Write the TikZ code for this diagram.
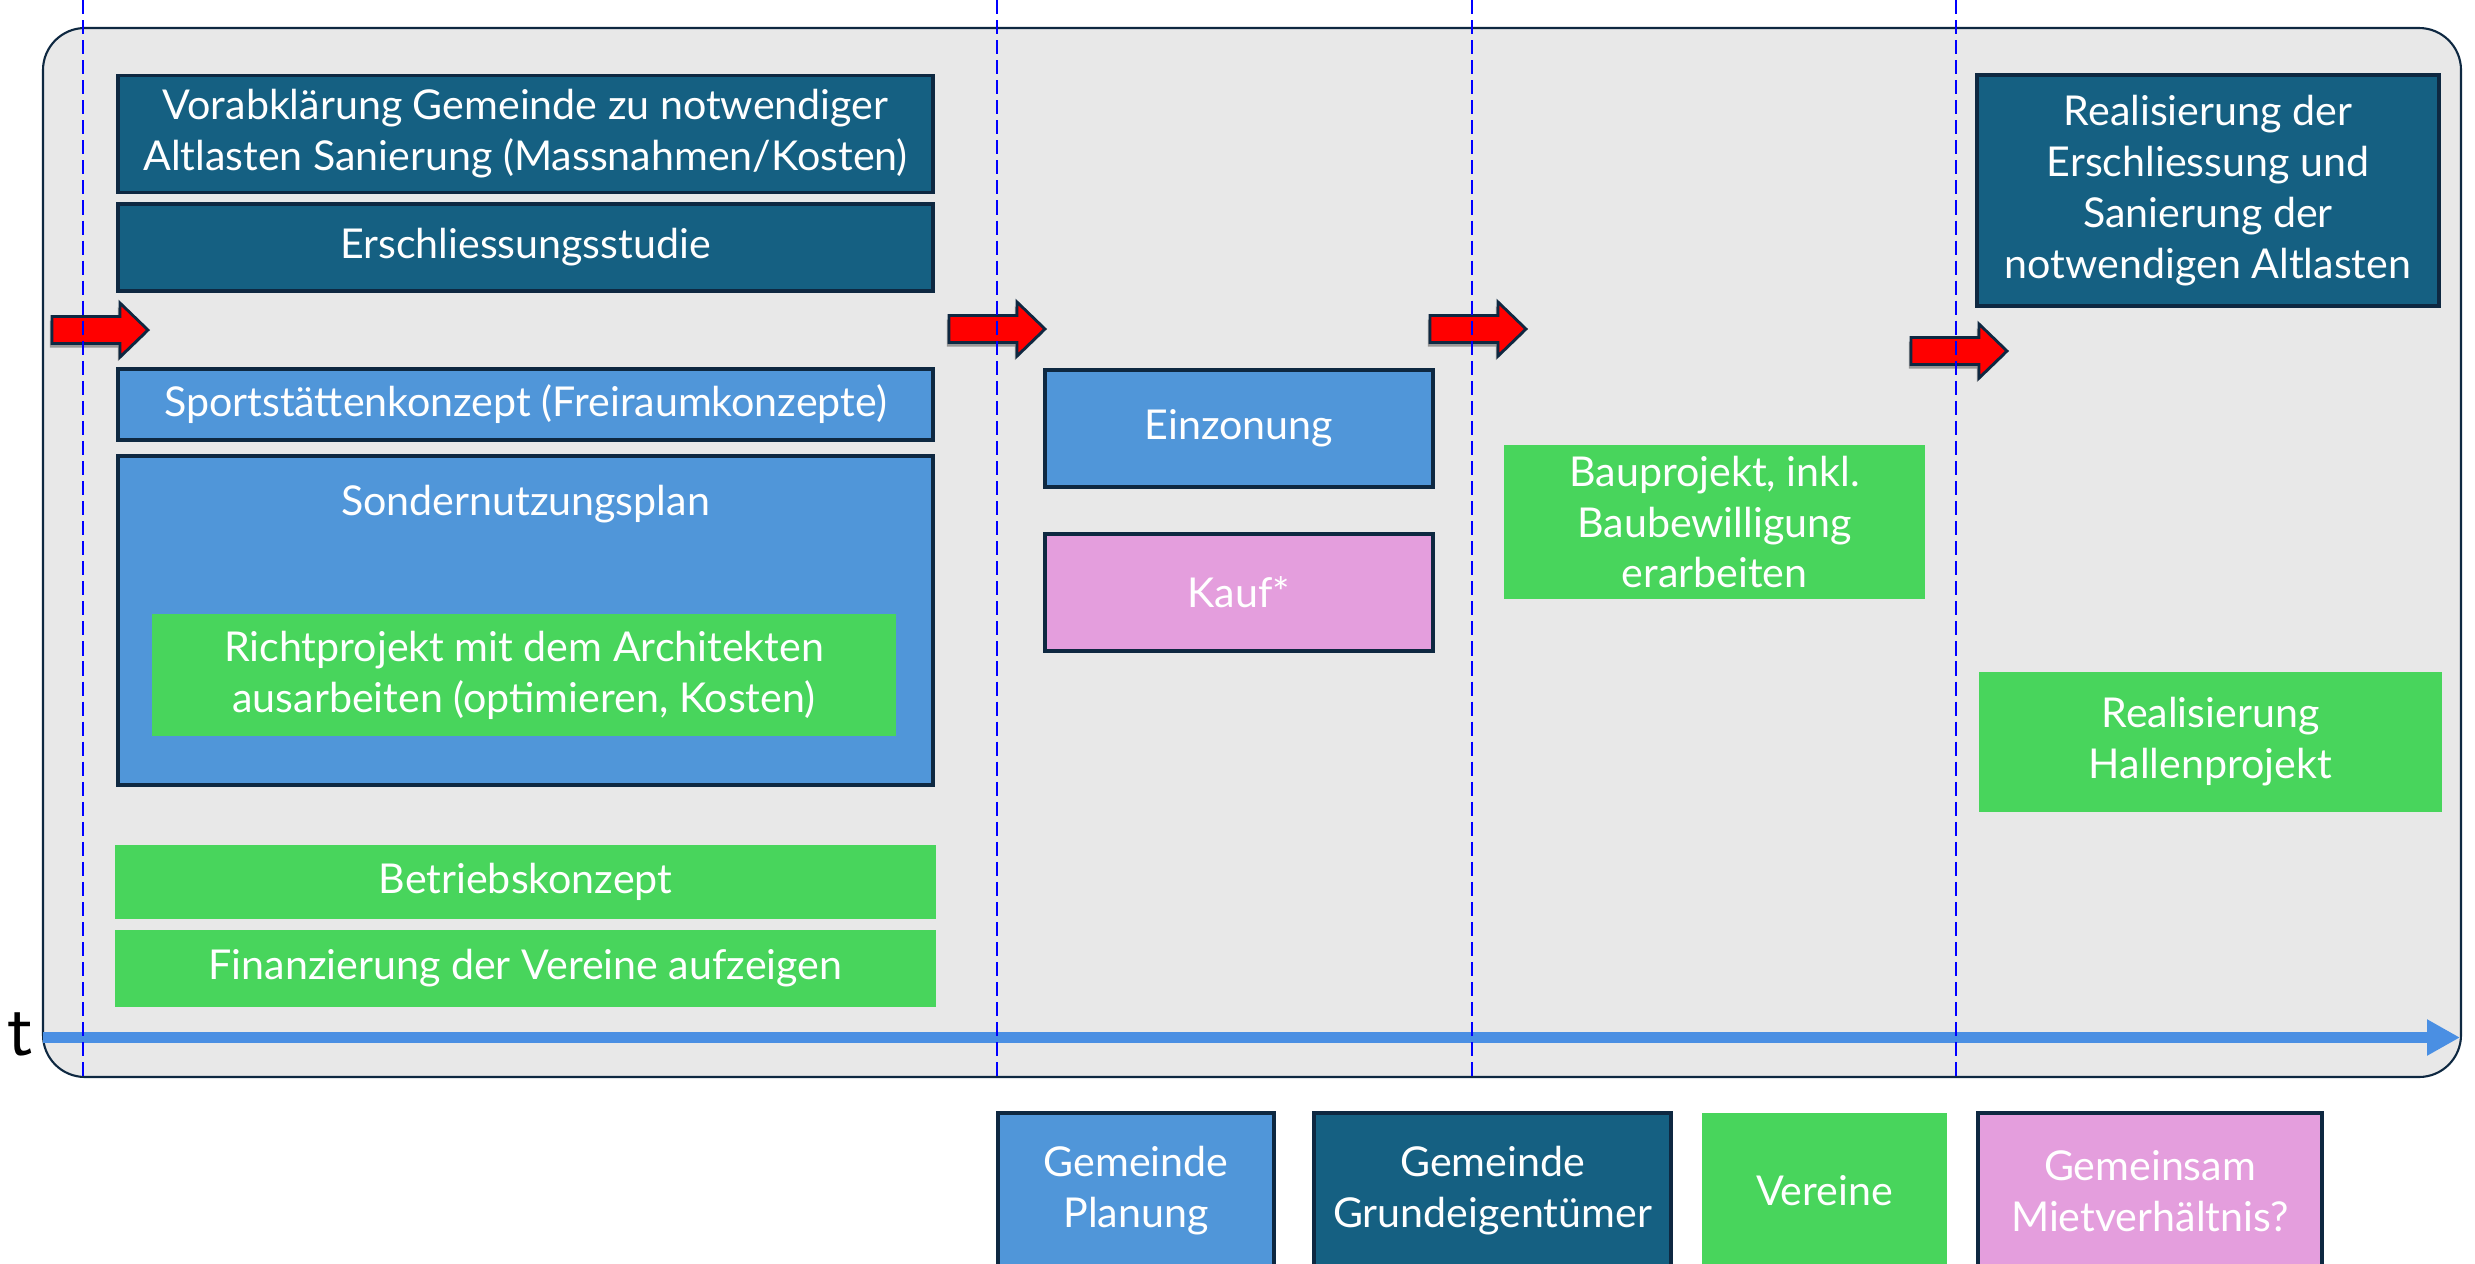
\documentclass[tikz,border=0pt]{standalone}
\usepackage{fontspec}
\setmainfont{Lato}
\usetikzlibrary{shadows,arrows.meta}
\definecolor{cnavy}{HTML}{0E2841}
\definecolor{cdark}{HTML}{156082}
\definecolor{cblue}{HTML}{5096D9}
\definecolor{cgreen}{HTML}{48D55C}
\definecolor{cpink}{HTML}{E49EDD}
\definecolor{cbg}{HTML}{E8E8E8}
\definecolor{ctime}{HTML}{4A8FE3}
\definecolor{cdash}{HTML}{0000FF}
\begin{document}
\begin{tikzpicture}[x=0.01cm,y=-0.01cm,
  boxbase/.style={rectangle, inner sep=0pt, outer sep=0pt, text=white, align=center,
    font=\fontsize{11.7}{14.5}\selectfont},
  darkbox/.style={boxbase, fill=cdark, draw=cnavy, line width=1.1pt},
  bluebox/.style={boxbase, fill=cblue, draw=cnavy, line width=1.1pt},
  pinkbox/.style={boxbase, fill=cpink, draw=cnavy, line width=1.1pt},
  greenbox/.style={boxbase, fill=cgreen},
  boxtext/.style={inner sep=0pt, text=white, align=center, font=\fontsize{11.7}{14.5}\selectfont},
  redarrow/.style={fill=red, draw=cnavy, line width=0.8pt, line join=miter,
    drop shadow={shadow xshift=-0.6pt, shadow yshift=-1.2pt, opacity=0.35, fill=black}},
  phase/.style={draw=cdash, line width=0.55pt, dash pattern=on 4pt off 1.7pt}
]
\clip (0,0) rectangle (2475,1263);
\useasboundingbox (0,0) rectangle (2475,1263);

% background panel
\draw[fill=cbg, draw=cnavy, line width=0.6pt, rounded corners=0.42cm] (43,28) rectangle (2461,1077);

% phase 1
\node[darkbox, minimum width=8.15cm, minimum height=1.17cm] (vorab) at (525.5,134)
  {Vorabklärung Gemeinde zu notwendiger\\Altlasten Sanierung (Massnahmen/Kosten)};
\node[darkbox, minimum width=8.15cm, minimum height=0.87cm] (ersch) at (525.5,247.5)
  {Erschliessungsstudie};
\node[bluebox, minimum width=8.15cm, minimum height=0.71cm] (sport) at (525.5,404.5)
  {Sportstättenkonzept (Freiraumkonzepte)};
\node[bluebox, minimum width=8.15cm, minimum height=3.29cm] (sonder) at (525.5,620.5) {};
\node[boxtext] (sonderT) at (525.5,504) {Sondernutzungsplan};
\node[greenbox, minimum width=7.44cm, minimum height=1.22cm] (richt) at (524,675)
  {Richtprojekt mit dem Architekten\\ausarbeiten (optimieren, Kosten)};
\node[greenbox, minimum width=8.21cm, minimum height=0.74cm] (betrieb) at (525.5,882)
  {Betriebskonzept};
\node[greenbox, minimum width=8.21cm, minimum height=0.77cm] (finanz) at (525.5,968.5)
  {Finanzierung der Vereine aufzeigen};

% phase 2
\node[bluebox, minimum width=3.88cm, minimum height=1.17cm] (einz) at (1239,428.5) {Einzonung};
\node[pinkbox, minimum width=3.88cm, minimum height=1.17cm] (kauf) at (1239,592.5) {Kauf*};

% phase 3
\node[greenbox, minimum width=4.21cm, minimum height=1.54cm] (baupr) at (1714.5,522)
  {Bauprojekt, inkl.\\Baubewilligung\\erarbeiten};

% phase 4
\node[darkbox, minimum width=4.62cm, minimum height=2.31cm] (realE) at (2208,190.5)
  {Realisierung der\\Erschliessung und\\Sanierung der\\notwendigen Altlasten};
\node[greenbox, minimum width=4.63cm, minimum height=1.40cm] (realH) at (2210.5,742)
  {Realisierung\\Hallenprojekt};

% red arrows
\foreach \ax/\ay in {52/330, 949/329, 1430/329, 1911/351}{
  \filldraw[redarrow] (\ax,\ay-13.5) -- (\ax+68,\ay-13.5) -- (\ax+68,\ay-27) -- (\ax+96,\ay)
    -- (\ax+68,\ay+27) -- (\ax+68,\ay+13.5) -- (\ax,\ay+13.5) -- cycle;
}

% time axis
\coordinate (t0) at (43,1037.5);
\coordinate (t1) at (2460,1037.5);
\draw[ctime, line width=0.11cm, -{Triangle[length=0.33cm, width=0.34cm]}] (t0) -- (t1);
\node[inner sep=0pt, font=\sffamily\fontsize{22}{22}\selectfont] (tlabel) at (21,1034) {t};

% phase separators
\foreach \px in {83, 997, 1472, 1956}{
  \draw[phase] (\px,0) -- (\px,1077);
}

% legend
\node[bluebox, minimum width=2.76cm, minimum height=1.56cm] (legA) at (1136,1191) {Gemeinde\\Planung};
\node[darkbox, minimum width=3.57cm, minimum height=1.56cm] (legB) at (1492.5,1191) {Gemeinde\\Grundeigentümer};
\node[greenbox, minimum width=2.45cm, minimum height=1.56cm] (legC) at (1824.5,1191) {Vereine};
\node[pinkbox, minimum width=3.44cm, minimum height=1.56cm] (legD) at (2150,1191) {Gemeinsam\\Mietverhältnis?};
\end{tikzpicture}
\end{document}
